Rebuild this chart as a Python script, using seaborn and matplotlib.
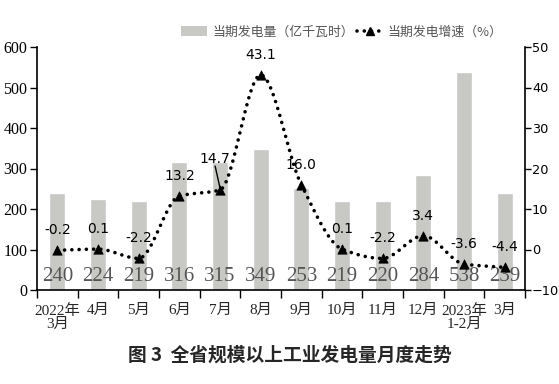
import numpy as np
import pandas as pd
import matplotlib
matplotlib.use("Agg")
import matplotlib.pyplot as plt
import seaborn as sns
from matplotlib.lines import Line2D
from matplotlib.patches import Patch

categories = ["2022年\n3月", "4月", "5月", "6月", "7月", "8月", "9月", "10月", "11月", "12月", "2023年\n1-2月", "3月"]
generation = [240, 224, 219, 316, 315, 349, 253, 219, 220, 284, 538, 239]
growth = [-0.2, 0.1, -2.2, 13.2, 14.7, 43.1, 16.0, 0.1, -2.2, 3.4, -3.6, -4.4]
growth_labels = ["-0.2", "0.1", "-2.2", "13.2", "14.7", "43.1", "16.0", "0.1", "-2.2", "3.4", "-3.6", "-4.4"]
left_ticks = [0, 100, 200, 300, 400, 500, 600]
right_ticks = [-10, 0, 10, 20, 30, 40, 50]

sns.set_theme(style="white")
plt.rcParams['font.family'] = ['Liberation Serif', 'Noto Sans CJK SC', 'DejaVu Sans']

fig = plt.figure(figsize=(5.59, 3.84), dpi=100)
ax = fig.add_axes([37/559, 1-290/384, (525-37)/559, (290-47)/384])
df = pd.DataFrame({"cat": categories, "gen": generation, "growth": growth})

bar_color = "#c8c8c5"
sns.barplot(data=df, x="cat", y="gen", color=bar_color, width=0.4, ax=ax, saturation=1)
ax.set_ylim(0, 600)
ax.set_xlim(-0.5, len(categories) - 0.5)
ax.set_yticks(left_ticks)
ax.set_xlabel("")
ax.set_ylabel("")
for s in ["top", "right"]:
    ax.spines[s].set_visible(False)
for s in ["left", "bottom"]:
    ax.spines[s].set_color("black")
    ax.spines[s].set_linewidth(1.2)
ax.tick_params(axis="y", which="both", left=True, length=5, width=1, labelsize=11.5, pad=2, colors="black")
ax.set_xticks(range(len(categories)))
ax.set_xticklabels(categories, fontsize=11, family=['Liberation Serif', 'Noto Sans CJK SC'],
                   linespacing=1.05)
ax.tick_params(axis="x", which="major", bottom=False, length=0, pad=10)
ax.set_xticks(np.arange(-0.5, len(categories), 1), minor=True)
ax.tick_params(axis="x", which="minor", bottom=True, length=6, width=1, color="black")
for i, v in enumerate(generation):
    ax.text(i, 10, str(v), ha="center", va="bottom", fontsize=15, color="#555555",
            family="Liberation Serif")

ax2 = ax.twinx()
ax2.set_ylim(-10, 50)
ax2.set_yticks(right_ticks)
for s in ["top", "left", "bottom"]:
    ax2.spines[s].set_visible(False)
ax2.spines["right"].set_color("black")
ax2.spines["right"].set_linewidth(1.2)
ax2.tick_params(axis="y", right=True, length=4, width=1, labelsize=9.3, pad=1, colors="black")
for lab in ax2.get_yticklabels():
    lab.set_family("DejaVu Sans")

# smoothed (monotone cubic) dotted line through the data points
xs = np.arange(len(growth), dtype=float)
ys = np.array(growth, dtype=float)
h = np.diff(xs)
d = np.diff(ys) / h
m = np.zeros_like(ys)
m[0], m[-1] = d[0], d[-1]
for i in range(1, len(ys) - 1):
    if d[i-1] * d[i] <= 0:
        m[i] = 0.0
    else:
        m[i] = 2.0 / (1.0 / d[i-1] + 1.0 / d[i])
cx, cy = [], []
t = np.linspace(0, 1, 40)
for i in range(len(ys) - 1):
    h00 = 2*t**3 - 3*t**2 + 1
    h10 = t**3 - 2*t**2 + t
    h01 = -2*t**3 + 3*t**2
    h11 = t**3 - t**2
    seg = h00*ys[i] + h10*h[i]*m[i] + h01*ys[i+1] + h11*h[i]*m[i+1]
    cx.extend((xs[i] + t*h[i])[:-1]); cy.extend(seg[:-1])
cx.append(xs[-1]); cy.append(ys[-1])
dot_style = (0, (0.01, 2.0))
ax2.plot(cx, cy, color="black", linestyle=dot_style, linewidth=2.6, dash_capstyle="round")
sns.scatterplot(x=xs, y=ys, marker="^", color="black", s=45, ax=ax2, zorder=5, edgecolor="black", legend=False)

offsets = {4: (-0.12, 6.0)}
for i, (v, lab) in enumerate(zip(growth, growth_labels)):
    dx, dy = offsets.get(i, (0, 3.2))
    ax2.text(i + dx, v + dy, lab, ha="center", va="bottom", fontsize=10,
             color="black", family="DejaVu Sans")
ax2.annotate("", xy=(4.0, 15.2), xytext=(3.88, 20.6),
             arrowprops=dict(arrowstyle="-", color="black", lw=1, shrinkA=0, shrinkB=0))

handles = [Patch(facecolor=bar_color, edgecolor="none"),
           Line2D([0], [0], color="black", linestyle=dot_style, linewidth=2.6,
                  marker="^", markersize=6, dash_capstyle="round")]
leg = fig.legend(handles, ["当期发电量（亿千瓦时）", "当期发电增速（%）"], loc="center",
                 bbox_to_anchor=(342/559, 1-32/384), ncol=2, frameon=False,
                 prop={"family": ["Noto Sans CJK SC"], "size": 9.3},
                 handlelength=2.0, handletextpad=0.4, columnspacing=0.2)
for txt in leg.get_texts():
    txt.set_color("#555555")

fig.text(290/559, 1-355/384, "图 3  全省规模以上工业发电量月度走势", ha="center", va="center",
         fontsize=13.5, fontweight="bold", family=["Noto Sans CJK SC"])

fig.savefig("out.png", dpi=100)
